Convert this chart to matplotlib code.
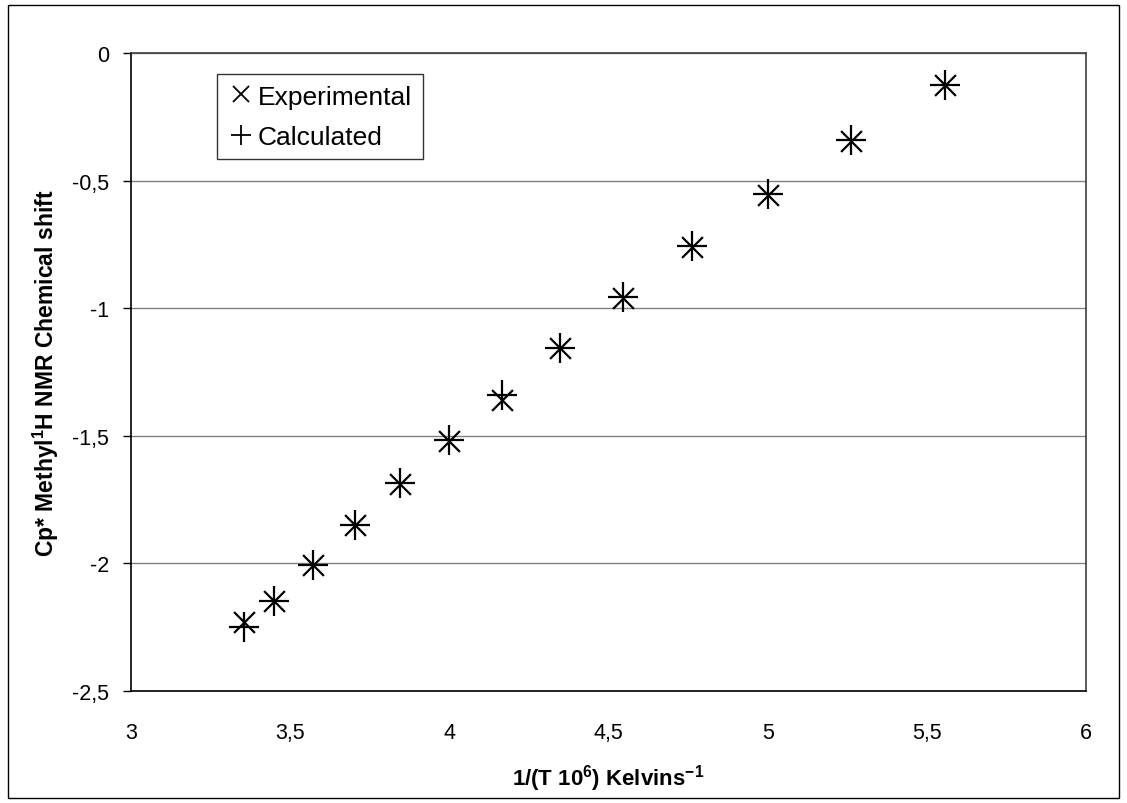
import matplotlib
matplotlib.use("Agg")
import matplotlib.pyplot as plt
from matplotlib.ticker import FuncFormatter
from matplotlib.lines import Line2D
from matplotlib.patches import Rectangle

plt.rcParams['font.family'] = ['Liberation Sans', 'DejaVu Sans']

# Data: 1/T (x 10^3) and Cp* methyl 1H chemical shift
inv_T = [3.356, 3.448, 3.571, 3.704, 3.846, 4.000, 4.167, 4.348, 4.545, 4.762, 5.000, 5.263, 5.556]
experimental = [-2.228, -2.146, -2.005, -1.850, -1.688, -1.519, -1.358, -1.156, -0.961, -0.759, -0.555, -0.344, -0.125]
calculated = [-2.248, -2.146, -2.005, -1.848, -1.685, -1.517, -1.340, -1.156, -0.958, -0.757, -0.553, -0.342, -0.125]

x_ticks = [3, 3.5, 4, 4.5, 5, 5.5, 6]
y_ticks = [0, -0.5, -1, -1.5, -2, -2.5]

W, H = 1127, 804
fig = plt.figure(figsize=(W / 100, H / 100), dpi=100)
left, right, top, bottom = 131, 1086, 54, 692
ax = fig.add_axes([left / W, 1 - bottom / H, (right - left) / W, (bottom - top) / H])

ax.scatter(inv_T, experimental, marker='x', s=15 ** 2, color='black', linewidths=1.6, zorder=3)
ax.scatter(inv_T, calculated, marker='+', s=21 ** 2, color='black', linewidths=1.6, zorder=3)

ax.set_xlim(3, 6)
ax.set_ylim(-2.5, 0)
ax.set_xticks(x_ticks)
ax.set_yticks(y_ticks)

def comma_fmt(v, pos):
    return ('%g' % v).replace('.', ',')

ax.xaxis.set_major_formatter(FuncFormatter(comma_fmt))
ax.yaxis.set_major_formatter(FuncFormatter(comma_fmt))

ax.yaxis.grid(True, color='#808080', linewidth=1.0)
ax.set_axisbelow(True)

for sp in ax.spines.values():
    sp.set_color('#404040')
    sp.set_linewidth(1.2)
ax.spines['left'].set_color('black')
ax.spines['bottom'].set_color('black')

ax.tick_params(axis='y', direction='out', length=6, width=1, pad=10, labelsize=15.5, colors='black')
ax.tick_params(axis='x', length=0, pad=22, labelsize=15.5)

ax.set_xlabel(r'1/(T 10$^{\mathregular{6}}$) Kelvins$^{\mathregular{-1}}$', fontsize=16,
              fontweight='bold', labelpad=14)
ax.set_ylabel(r'Cp* Methyl$^{\mathregular{1}}$H NMR Chemical shift', fontsize=16.5,
              fontweight='bold', labelpad=8)

handles = [Line2D([], [], marker='x', linestyle='none', color='black', markersize=12, markeredgewidth=1.3),
           Line2D([], [], marker='+', linestyle='none', color='black', markersize=15, markeredgewidth=1.3)]
leg = ax.legend(handles, ['Experimental', 'Calculated'], loc='upper left',
                bbox_to_anchor=((217 - left) / (right - left), 1 - (75 - top) / (bottom - top)),
                fontsize=19, frameon=True, fancybox=False, borderpad=0.4, handletextpad=0.15,
                handlelength=1.0, labelspacing=0.62, borderaxespad=0)
leg.get_frame().set_edgecolor('black')
leg.get_frame().set_linewidth(1.0)

fig.patches.append(Rectangle((8 / W, 1 - 799 / H), (1119 - 8) / W, (799 - 6) / H,
                             transform=fig.transFigure, fill=False, edgecolor='black', linewidth=1.0))

fig.savefig('out.png', dpi=100)
